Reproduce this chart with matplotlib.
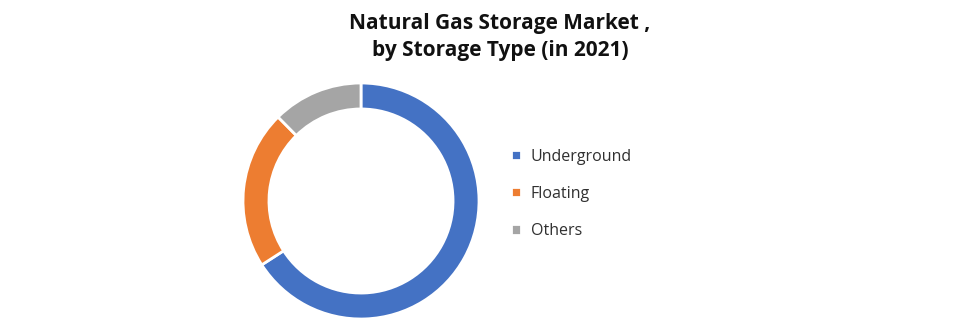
import matplotlib
matplotlib.use("Agg")
import matplotlib.pyplot as plt

categories = ["Underground", "Floating", "Others"]
shares = [65.9, 21.7, 12.4]
colors = ["#4472C4", "#ED7D31", "#A5A5A5"]
title = "Natural Gas Storage Market ,\nby Storage Type (in 2021)"

W, H = 968, 322
fig = plt.figure(figsize=(W / 100, H / 100), dpi=100)
fig.patch.set_facecolor("white")

cx, cy, r = 361, 201, 118
ax = fig.add_axes([(cx - r) / W, (H - cy - r) / H, 2 * r / W, 2 * r / H])
wedges, _ = ax.pie(shares, colors=colors, startangle=90, counterclock=False,
                   radius=1.0, wedgeprops=dict(width=0.22, edgecolor="white", linewidth=2))
ax.set_xlim(-1, 1)
ax.set_ylim(-1, 1)
ax.set_aspect("equal")
ax.axis("off")

fig.text(500 / W, 1 - 37 / H, title, ha="center", va="center",
         fontsize=15, fontweight="bold", family=["Open Sans", "DejaVu Sans"],
         linespacing=1.35, color="#111111")

leg = fig.legend(wedges, categories, loc="center left",
                 bbox_to_anchor=(497 / W, 1 - 194 / H), frameon=False,
                 prop={"family": ["Open Sans", "DejaVu Sans"], "size": 11.5},
                 handlelength=0.6, handleheight=0.6, handletextpad=0.6,
                 labelspacing=1.32, labelcolor="#303030")

fig.savefig("out.png", dpi=100, facecolor="white")
